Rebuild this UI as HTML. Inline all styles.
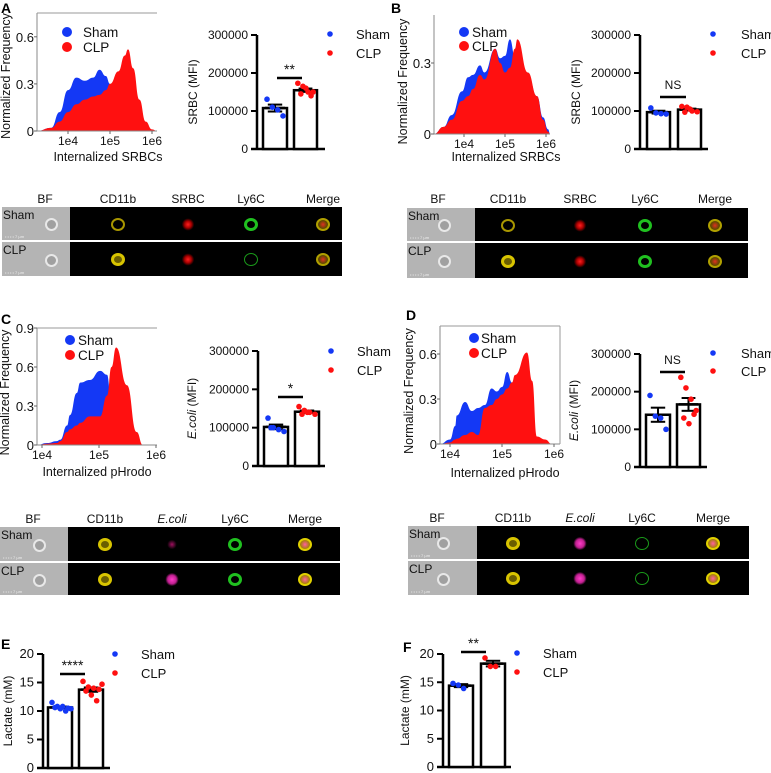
<!DOCTYPE html>
<html><head><meta charset="utf-8"><style>
body{margin:0;background:#fff;}
#root{position:relative;width:771px;height:773px;overflow:hidden;font-family:"Liberation Sans",sans-serif;}
svg{position:absolute;left:0;top:0;}
.strip{position:absolute;left:0;top:0;}
.gray{position:absolute;background:#b4b4b4;}
.blk{position:absolute;background:#000;}
.lab{position:absolute;font-size:12px;line-height:14px;color:#111;transform:translateX(-50%);white-space:nowrap;}
.rowlab{position:absolute;font-size:12px;line-height:14px;color:#111;}
.cell{position:absolute;border-radius:50%;}
.scale{position:absolute;font-size:4px;line-height:5px;color:#eee;white-space:nowrap;}
</style></head><body>
<div id="root">
<svg id="svg" width="771" height="773" viewBox="0 0 771 773"></svg>
</div>
<script>
// ---------- data ----------
const groups=["Sham","CLP"];
const aSham=[131000,110000,103000,87000];
const aClp=[173000,165000,150000,150000,145000,160000,140000];
const bSham=[108000,95000,93000,92000];
const bClp=[112000,110000,100000,98000,97000,105000];
const cSham=[125000,100000,95000,90000,100000];
const cClp=[155000,145000,140000,135000,135000,140000];
const dSham=[190000,135000,130000,100000];
const dClp=[238000,210000,180000,150000,130000,115000,140000];
const eSham=[11.5,10.8,10.8,10.5,10.6,10.4,10.0,10.4];
const eClp=[15.2,14.2,14.0,13.8,13.5,12.8,11.8,14.7];
const fSham=[14.8,14.5,13.9];
const fClp=[19.3,17.8,17.8];
const mfiTicks=[0,100000,200000,300000];
const lacTicks=[0,5,10,15,20];

const histALogs=[3.26,3.6,3.8,4.0,4.2,4.4,4.6,4.75,4.9,5.0,5.2,5.35,5.43,5.55,5.7,5.85,6.0,6.12];
const histARed=[0,0.02,0.06,0.12,0.17,0.2,0.22,0.23,0.26,0.3,0.38,0.48,0.52,0.4,0.2,0.06,0.01,0];
const histASham=[0,0.02,0.12,0.26,0.34,0.32,0.34,0.39,0.35,0.3,0.1,0,0,0,0,0,0,0];
const histBLogs=[3.27,3.5,3.7,3.95,4.1,4.22,4.39,4.5,4.76,4.88,5.0,5.12,5.24,5.3,5.56,5.78,5.93,6.05,6.1];
const histBRed=[0,0.03,0.06,0.14,0.16,0.19,0.25,0.23,0.36,0.3,0.26,0.28,0.36,0.4,0.26,0.16,0.06,0.01,0];
const histBSham=[0,0.03,0.08,0.18,0.24,0.25,0.29,0.26,0.36,0.32,0.33,0.4,0.33,0.3,0.25,0.16,0.07,0.02,0];
const histCLogs=[3.91,4.09,4.26,4.32,4.44,4.49,4.61,4.67,4.84,5.02,5.14,5.22,5.3,5.49,5.66,5.77,6.02];
const histCRed=[0,0.01,0.015,0.03,0.1,0.12,0.15,0.17,0.22,0.22,0.38,0.6,0.75,0.46,0.1,0,0];
const histCSham=[0,0.015,0.03,0.04,0.15,0.23,0.4,0.48,0.5,0.57,0.54,0.3,0,0,0,0,0];
const histDLogs=[3.81,4.0,4.1,4.13,4.29,4.42,4.54,4.67,4.8,4.9,5.0,5.1,5.19,5.25,5.48,5.58,5.67,5.83,5.96,6.12];
const histDRed=[0,0.01,0.03,0.035,0.06,0.08,0.06,0.24,0.26,0.3,0.33,0.37,0.41,0.46,0.61,0.42,0.05,0.03,0,0];
const histDSham=[0,0.03,0.12,0.19,0.28,0.22,0.24,0.26,0.37,0.35,0.38,0.48,0.41,0,0,0,0,0,0,0];
const histTicksA=[0,0.3,0.6];
const histTicksB=[0,0.3];
const histTicksC=[0,0.3,0.6,0.9];
const histTicksD=[0,0.3,0.6];
const decades=[4,5,6];
const decadeLabels=["1e4","1e5","1e6"];

const BLUE="#1438f5", RED="#ff1010";
const svg=document.getElementById('svg');
const NS="http://www.w3.org/2000/svg";
function el(tag,attrs,parent,txt){const e=document.createElementNS(NS,tag);for(const k in attrs)e.setAttribute(k,attrs[k]);if(txt!==undefined)e.textContent=txt;(parent||svg).appendChild(e);return e;}
function fmt(v){return String(v);}

function barChart(c){
  const g=el('g',{});
  
  
  const ys=v=>c.y0-(v/c.max)*(c.y0-c.yTop);
  const yax=el('line',{x1:c.ax,y1:c.yTop,x2:c.ax,y2:c.y0+1,stroke:'#000','stroke-width':2.5},g);
  
  const xax=el('line',{x1:c.ax-6,y1:c.y0,x2:c.xEnd,y2:c.y0,stroke:'#000','stroke-width':2.5},g);
  
  c.ticks.forEach(t=>{
    el('line',{x1:c.ax-6,y1:ys(t),x2:c.ax,y2:ys(t),stroke:'#000','stroke-width':2},g);
    const tl=el('text',{x:c.ax-9,y:ys(t)+4,'text-anchor':'end','font-size':c.tfs||12,fill:'#111'},g,fmt(t));
    
  });
  const datas=[c.sham,c.clp];
  datas.forEach((d,i)=>{
    const [x1,x2]=c.bars[i];
    const mean=d.reduce((a,b)=>a+b,0)/d.length;
    const sd=Math.sqrt(d.reduce((a,b)=>a+(b-mean)*(b-mean),0)/(d.length-1));
    const sem=sd/Math.sqrt(d.length);
    const r=el('rect',{x:x1,y:ys(mean),width:x2-x1,height:c.y0-ys(mean),fill:'#fff',stroke:'#000','stroke-width':2.5},g);
    
    const cx=(x1+x2)/2, hw=(x2-x1)*0.3;
    el('line',{x1:cx,y1:ys(mean+sem),x2:cx,y2:ys(mean-sem),stroke:'#000','stroke-width':2},g);
    el('line',{x1:cx-hw,y1:ys(mean+sem),x2:cx+hw,y2:ys(mean+sem),stroke:'#000','stroke-width':2},g);
    el('line',{x1:cx-hw,y1:ys(mean-sem),x2:cx+hw,y2:ys(mean-sem),stroke:'#000','stroke-width':2},g);
    el('line',{x1:x1+2,y1:ys(mean),x2:x2-2,y2:ys(mean),stroke:'#000','stroke-width':2.5},g);
    d.forEach((v,j)=>{
      const off=((j%4)-1.5)*((x2-x1)/4.5)+(j>=4?3:0);
      const p=el('circle',{cx:cx+off,cy:ys(v),r:2.8,fill:i?RED:BLUE},g);
      
    });
  });
  if(c.sig){
    el('line',{x1:c.sig[0],y1:c.sig[2],x2:c.sig[1],y2:c.sig[2],stroke:'#000','stroke-width':2.5},g);
    const s=el('text',{x:(c.sig[0]+c.sig[1])/2,y:c.sig[2]-(c.sig[3]==='NS'?8:4),'text-anchor':'middle','font-size':c.sig[3]==='NS'?12:14,fill:'#111'},g,c.sig[3]);
    
  }
  groups.forEach((n,i)=>{
    const yy=c.leg[1]+i*c.leg[2];
    const d=el('circle',{cx:c.leg[0],cy:yy,r:2.8,fill:i?RED:BLUE},g);
    
    const t=el('text',{x:c.leg[3],y:yy+5,'font-size':13,fill:'#111'},g,n);
    
  });
  const yl=el('text',{x:c.ylx,y:(c.yTop+c.y0)/2,'text-anchor':'middle','font-size':12,fill:'#111',transform:`rotate(-90 ${c.ylx} ${(c.yTop+c.y0)/2})`},g);
  
  if(c.italic){el('tspan',{'font-style':'italic'},yl,c.italic);el('tspan',{},yl,c.ylabel);}
  else yl.textContent=c.ylabel;
}

function hist(c){
  const g=el('g',{});
  
  
  const xs=l=>c.x4+(l-4)*c.dec;
  const ys=v=>c.y0-v*c.ppu;
  function area(vals,col,nm){
    let d=`M${xs(c.logs[0])},${c.y0}`;
    const pts=c.logs.map((l,i)=>[xs(l),ys(vals[i])]);
    d+=` L${pts[0][0]},${pts[0][1]}`;
    for(let i=1;i<pts.length;i++){const p0=pts[i-1],p1=pts[i];const mx=(p0[0]+p1[0])/2;d+=` C${mx},${p0[1]} ${mx},${p1[1]} ${p1[0]},${p1[1]}`;}
    d+=` L${xs(c.logs[c.logs.length-1])},${c.y0} Z`;
    const p=el('path',{d:d,fill:col},g);
    
  }
  area(c.sham,BLUE,'histogram-sham');
  area(c.red,RED,'histogram-clp');
  const ax=el('line',{x1:c.ax,y1:c.top,x2:c.ax,y2:c.y0,stroke:'#888','stroke-width':1},g);
  
  const xa=el('line',{x1:c.ax,y1:c.y0,x2:c.right,y2:c.y0,stroke:'#888','stroke-width':1},g);
  
  if(c.topLine)el('line',{x1:c.ax,y1:c.top,x2:c.right,y2:c.top,stroke:'#999','stroke-width':1},g);
  if(c.box)el('line',{x1:c.right,y1:c.top,x2:c.right,y2:c.y0,stroke:'#999','stroke-width':1},g);
  c.ticks.forEach(t=>{
    el('line',{x1:c.ax-3,y1:ys(t),x2:c.ax,y2:ys(t),stroke:'#666'},g);
    const tl=el('text',{x:c.ax-3,y:ys(t)+5,'text-anchor':'end','font-size':13,fill:'#111'},g,String(t));
    
  });
  decades.forEach((dv,i)=>{
    el('line',{x1:xs(dv),y1:c.y0,x2:xs(dv),y2:c.y0+3,stroke:'#666'},g);
    const tl=el('text',{x:xs(dv),y:c.y0+14,'text-anchor':'middle','font-size':12,fill:'#111'},g,decadeLabels[i]);
    
  });
  const xl=el('text',{x:c.xlx,y:c.xly,'text-anchor':'middle','font-size':12.5,fill:'#111'},g,c.xlabel);
  
  const ym=(c.top+c.y0)/2+c.ylOff;
  const yl=el('text',{x:c.ylx,y:ym,'text-anchor':'middle','font-size':12.5,fill:'#111',transform:`rotate(-90 ${c.ylx} ${ym})`},g,'Normalized Frequency');
  
  groups.forEach((n,i)=>{
    const yy=c.leg[1]+i*c.leg[2];
    const d=el('circle',{cx:c.leg[0],cy:yy,r:5,fill:i?RED:BLUE},g);
    
    const t=el('text',{x:c.leg[3],y:yy+5,'font-size':13.5,fill:'#111'},g,n);
    
  });
}

function letter(t,x,y){const e=el('text',{x:x,y:y,'font-size':14,'font-weight':'bold',fill:'#000'},svg,t);}
letter('A',1,13);letter('B',391,13);letter('C',1,324);letter('D',406,320);letter('E',1,649);letter('F',403,652);

hist({name:'histogram-a',logs:histALogs,red:histARed,sham:histASham,ticks:histTicksA,x4:68,dec:42,y0:131,ppu:157,ax:37,right:157,top:13,topLine:true,xlx:108,xly:161,ylx:10,ylOff:4,xlabel:'Internalized SRBCs',leg:[67,32,15,83]});
hist({name:'histogram-b',logs:histBLogs,red:histBRed,sham:histBSham,ticks:histTicksB,x4:464,dec:41,y0:134,ppu:236.7,ax:434,right:550,top:15,xlx:506,xly:161,ylx:407,ylOff:7,xlabel:'Internalized SRBCs',leg:[464,32,14,472]});
hist({name:'histogram-c',logs:histCLogs,red:histCRed,sham:histCSham,ticks:histTicksC,x4:42,dec:57,y0:445,ppu:130,ax:37,right:157,top:328,topLine:true,xlx:97,xly:476,ylx:9,ylOff:6,xlabel:'Internalized pHrodo',leg:[70,340,15,78]});
hist({name:'histogram-d',logs:histDLogs,red:histDRed,sham:histDSham,ticks:histTicksD,x4:450,dec:52,y0:444,ppu:150,ax:440,right:560,top:326,topLine:true,box:true,xlx:505,xly:477,ylx:413,ylOff:6,xlabel:'Internalized pHrodo',leg:[474,338,15,481]});

barChart({name:'bar-chart-a',sham:aSham,clp:aClp,ticks:mfiTicks,max:300000,ax:257,y0:149,yTop:35,xEnd:325,bars:[[263,287],[294,317]],sig:[277,302,78,'**'],leg:[330,34,19,356],ylx:197,ylabel:'SRBC (MFI)'});
barChart({name:'bar-chart-b',sham:bSham,clp:bClp,ticks:mfiTicks,max:300000,ax:640,y0:149,yTop:35,xEnd:708,bars:[[647,670],[678,701]],sig:[660,686,97,'NS'],leg:[713,34,19,741],ylx:580,ylabel:'SRBC (MFI)'});
barChart({name:'bar-chart-c',sham:cSham,clp:cClp,ticks:mfiTicks,max:300000,ax:258,y0:466,yTop:351,xEnd:325,bars:[[264,288],[295,319]],sig:[278,303,397,'*'],leg:[331,351,19,357],ylx:196,italic:'E.coli',ylabel:' (MFI)'});
barChart({name:'bar-chart-d',sham:dSham,clp:dClp,ticks:mfiTicks,max:300000,ax:640,y0:467,yTop:354,xEnd:707,bars:[[646,670],[677,700]],sig:[660,685,372,'NS'],leg:[713,353,18,741],ylx:578,italic:'E.coli',ylabel:' (MFI)'});
barChart({name:'bar-chart-e',sham:eSham,clp:eClp,ticks:lacTicks,max:20,ax:43,y0:768,yTop:654,xEnd:110,bars:[[48,72],[79,103]],sig:[60,85,674,'****'],leg:[115,654,19,141],ylx:12,ylabel:'Lactate (mM)',tfs:13});
barChart({name:'bar-chart-f',sham:fSham,clp:fClp,ticks:lacTicks,max:20,ax:443,y0:767,yTop:654,xEnd:511,bars:[[449,473],[481,505]],sig:[461,486,652,'**'],leg:[517,653,19,543],ylx:409,ylabel:'Lactate (mM)',tfs:13});

// ---------- image strips ----------
const root=document.getElementById('root');
function div(cls,style,parent,txt){const d=document.createElement('div');if(cls)d.className=cls;Object.assign(d.style,style);if(txt!==undefined)d.innerHTML=txt;(parent||root).appendChild(d);return d;}
function strip(s){
  const w=div('strip',{});
  
  
  s.labels.forEach((t,i)=>{
    const l=div('lab',{left:s.cols[i]+'px',top:(s.labY-7)+'px'},w,t);
    
    
  });
  s.rows.forEach((r,ri)=>{
    const gr=div('gray',{left:s.gx+'px',top:r[0]+'px',width:(s.bx-s.gx)+'px',height:(r[1]-r[0])+'px'},w);
    
    
    const bk=div('blk',{left:s.bx+'px',top:r[0]+'px',width:(s.ex-s.bx)+'px',height:(r[1]-r[0])+'px'},w);
    
    
    const cy=(r[0]+r[1])/2;
    const rl=div('rowlab',{left:(s.gx+1)+'px',top:(r[0]+1)+'px'},w,ri?'CLP':'Sham');
    
    
    div('scale',{left:(s.gx+3)+'px',top:(r[1]-6)+'px'},w,'• • • • 7 µm');
    const sz=13;
    div('cell',{left:(s.cols[0]+6-sz/2)+'px',top:(cy-sz/2+1)+'px',width:sz+'px',height:sz+'px',border:'2px solid #e8e8e8',background:'#a0a0a0',boxSizing:'border-box'},w);
    const st=s.styles[ri];
    st.forEach((cs,ci)=>{
      const c=div('cell',Object.assign({left:(s.cols[ci+1]-7)+'px',top:(cy-6)+'px',width:'14px',height:'13px',boxSizing:'border-box'},cs),w);
      
      
    });
  });
}
const ringY={border:'2px solid #a89600'}, ringYs={border:'3px solid #d8c400',background:'#6a5e00'};
const ringG={border:'3px solid #20c020'}, ringGs={border:'1px solid #1a9a1a'};
const redBlob={background:'radial-gradient(circle,#ff2020 0,#a00 35%,transparent 65%)'};
const pinkBlob={background:'radial-gradient(circle,#ff3cc8 0,#c02090 45%,transparent 70%)'};
const merge={border:'2px solid #b0a000',background:'radial-gradient(circle,#e03020 0,#604800 60%)'};
const mergeP={border:'2px solid #e0d000',background:'radial-gradient(circle,#ff60a0 0,#a08000 70%)'};
strip({name:'image-strip-a',labels:['BF','CD11b','SRBC','Ly6C','Merge'],cols:[45,118,188,251,323],labY:199,gx:2,bx:70,ex:342,rows:[[207,240],[242,276]],styles:[[ringY,redBlob,ringG,merge],[ringYs,redBlob,ringGs,merge]]});
strip({name:'image-strip-b',labels:['BF','CD11b','SRBC','Ly6C','Merge'],cols:[438,508,580,645,715],labY:199,gx:407,bx:475,ex:748,rows:[[208,241],[243,278]],styles:[[ringY,redBlob,ringG,merge],[ringYs,redBlob,ringG,merge]]});
strip({name:'image-strip-c',labels:['BF','CD11b','<i>E.coli</i>','Ly6C','Merge'],cols:[33,105,172,235,305],labY:519,gx:0,bx:68,ex:340,rows:[[527,561],[563,595]],styles:[[ringYs,{background:'radial-gradient(circle,#a01060 0,transparent 50%)'},ringG,mergeP],[ringYs,pinkBlob,ringG,mergeP]]});
strip({name:'image-strip-d',labels:['BF','CD11b','<i>E.coli</i>','Ly6C','Merge'],cols:[437,513,580,642,713],labY:518,gx:408,bx:477,ex:749,rows:[[526,559],[561,595]],styles:[[ringYs,pinkBlob,ringGs,mergeP],[ringYs,pinkBlob,ringGs,mergeP]]});
</script>
</body></html>
